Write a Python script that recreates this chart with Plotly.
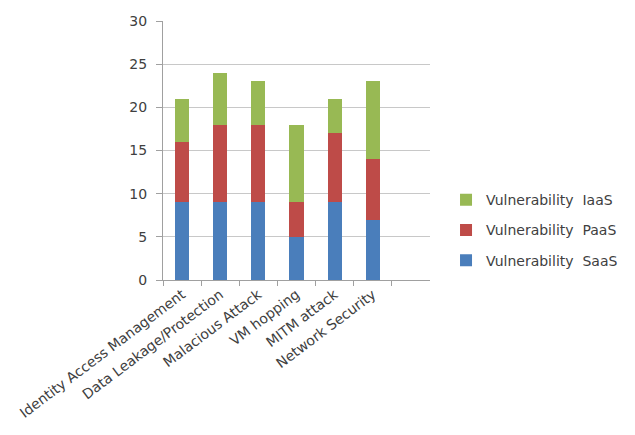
import plotly.graph_objects as go

categories = ["Identity Access Management", "Data Leakage/Protection", "Malacious Attack",
              "VM hopping", "MITM attack", "Network Security"]
saas = [9, 9, 9, 5, 9, 7]
paas = [7, 9, 9, 4, 8, 7]
iaas = [5, 6, 5, 9, 4, 9]
series_names = ["Vulnerability  SaaS", "Vulnerability  PaaS", "Vulnerability  IaaS"]
colors = ["#4A7EBB", "#BE4B48", "#98B954"]
y_ticks = [0, 5, 10, 15, 20, 25, 30]

fig = go.Figure()
for i, (name, vals, col) in enumerate(zip(series_names, [saas, paas, iaas], colors)):
    fig.add_trace(go.Bar(x=categories, y=vals, name=name, marker_color=col,
                         marker_line_width=0, legendgroup="g%d" % i,
                         legendrank=3 - i))

fig.update_layout(
    barmode="stack",
    bargap=0.63,
    width=635, height=435,
    margin=dict(l=163, r=202, t=21, b=155),
    paper_bgcolor="white", plot_bgcolor="white",
    font=dict(family="DejaVu Sans", color="#404040", size=12),
    showlegend=True,
    legend=dict(x=1.06, xanchor="left", y=0.37, yanchor="top",
                traceorder="grouped", tracegroupgap=9,
                font=dict(size=14, color="#404040"), itemwidth=30),
    xaxis=dict(type="category", range=[-0.5, 6.5], tickson="boundaries",
               ticks="outside", ticklen=5, tickcolor="#a0a0a0",
               showline=True, linecolor="#a0a0a0", linewidth=1,
               tickangle=-37, tickfont=dict(size=14, color="#404040"),
               showgrid=False),
    yaxis=dict(range=[0, 30], tickvals=y_ticks, ticks="outside", ticklen=6,
               tickcolor="#a0a0a0", showline=True, linecolor="#a0a0a0",
               showgrid=True, gridcolor="#c8c8c8", gridwidth=1,
               ticklabelstandoff=6,
               tickfont=dict(size=14, color="#404040"), zeroline=False),
)

fig.write_html("out.html")
